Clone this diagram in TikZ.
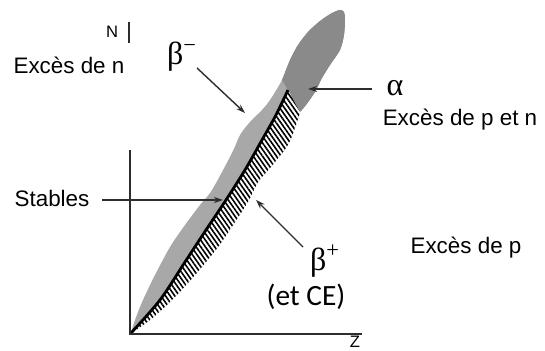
\documentclass[tikz,border=0pt]{standalone}
\usepackage{fontspec}
\setmainfont{Liberation Sans}
\newfontfamily\greekfont{Liberation Serif}
\newfontfamily\calibfont{Carlito}
\usetikzlibrary{arrows.meta, patterns.meta}
\definecolor{stipple}{RGB}{168,168,168}
\definecolor{crosshatch}{RGB}{138,138,138}
\definecolor{inkgray}{RGB}{45,45,45}

\begin{document}
\begin{tikzpicture}[x=0.5pt, y=-0.5pt,
  lbl/.style={font=\fontsize{11.2}{13}\selectfont},
  axlbl/.style={font=\fontsize{8.3}{10}\selectfont, inner sep=1pt},
  decay/.style={font=\greekfont\fontsize{16}{18}\selectfont},
  pointer/.style={-{Stealth[length=4.5pt,width=3pt]}, line width=0.7pt, inkgray}]
  \useasboundingbox (0,0) rectangle (545,351);
  % valley of stability: whole band
  \fill[stipple] plot[smooth] coordinates {(131,333) (135,320) (143,300) (155,275)
      (170,247) (185,225) (200,205) (212,190) (232,153) (240,135) (250,122) (262,110)
      (270,100) (282,80) (290,60) (298,45) (308,32) (320,21) (332,13) (340,10) (344,12)
      (345,20) (344,35) (340,50) (330,65) (322,78) (315,92) (306,105) (300,112)}
    -- plot[smooth] coordinates {(300,112) (289,143) (270,168) (258,182) (249,200)
      (235,222) (218,247) (195,275) (172,300) (150,320) (131,333)} -- cycle;
  % heavy nuclei (alpha)
  \fill[crosshatch] plot[smooth] coordinates {(282,80) (290,60) (298,45) (308,32)
      (320,21) (332,13) (340,10) (344,12) (345,20) (344,35) (340,50) (330,65) (322,78)
      (315,92) (306,105) (300,112)} -- (288,90) -- cycle;
  % proton excess side (beta+)
  \path[preaction={fill=white}, pattern={Lines[angle=-55,distance=1.9pt,line width=0.8pt]}]
    plot[smooth] coordinates {(131,333) (160,300) (185,262) (206,230) (226,200)
      (245,170) (262,140) (276,115) (288,90)} -- (300,112)
    -- plot[smooth] coordinates {(300,112) (289,143) (270,168) (258,182) (249,200)
      (235,222) (218,247) (195,275) (172,300) (150,320) (131,333)} -- cycle;
  % stable nuclei
  \draw[line width=1.4pt] plot[smooth] coordinates {(131,333) (160,300) (185,262)
      (206,230) (226,200) (245,170) (262,140) (276,115) (288,90)};
  % axes
  \draw[line width=0.7pt, inkgray] (130,150) -- (130,334) -- (362,334);
  \draw[line width=0.6pt, inkgray] (129,22) -- (129,43);
  \node[axlbl] (nlabel) at (112,32) {N};
  \node[axlbl] (zlabel) at (355,342) {Z};
  % labels
  \node[lbl] (exn) at (69,65) {Excès de n};
  \node[lbl] (stables) at (52,198) {Stables};
  \node[lbl] (expn) at (460,120) {Excès de p et n};
  \node[lbl] (exp) at (466,248) {Excès de p};
  \node[decay] (betam) at (182,57) {β\textsuperscript{−}};
  \node[decay] (alpha) at (395,88) {α};
  \node[decay] (betap) at (325,261) {β\textsuperscript{+}};
  \node[font=\calibfont\fontsize{14.7}{17}\selectfont] (etce) at (306,297) {(et CE)};
  % pointers
  \coordinate (bmtail) at (197,68);
  \coordinate (bmtip) at (245,113);
  \coordinate (altail) at (372,89);
  \coordinate (altip) at (308,89);
  \coordinate (sttail) at (102,200);
  \coordinate (sttip) at (223,200);
  \coordinate (bptail) at (303,247);
  \coordinate (bptip) at (256,200);
  \draw[pointer] (bmtail) -- (bmtip);
  \draw[pointer] (altail) -- (altip);
  \draw[pointer] (sttail) -- (sttip);
  \draw[pointer] (bptail) -- (bptip);
\end{tikzpicture}
\end{document}
